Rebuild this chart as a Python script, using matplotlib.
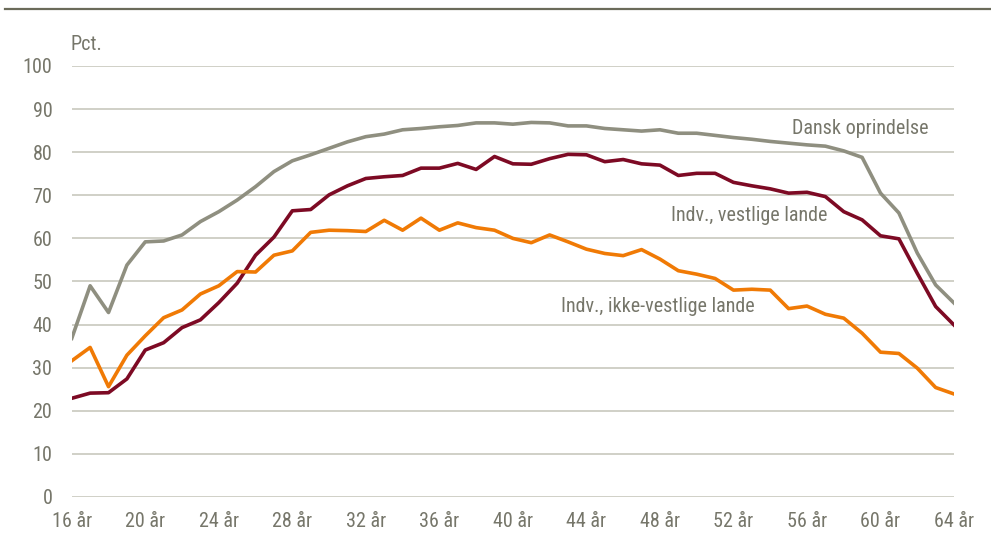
import matplotlib
matplotlib.use("Agg")
import matplotlib.pyplot as plt
from matplotlib.lines import Line2D

ages = list(range(16, 65))
tick_ages = list(range(16, 65, 4))
tick_labels = [f"{a} år" for a in tick_ages]

dansk = [36.8, 49.0, 42.8, 53.8, 59.2, 59.4, 60.8, 63.9, 66.2, 68.9,
         72.0, 75.5, 78.0, 79.4, 80.9, 82.4, 83.6, 84.2, 85.2, 85.5,
         85.9, 86.2, 86.8, 86.8, 86.5, 86.9, 86.8, 86.1, 86.1, 85.5,
         85.2, 84.9, 85.2, 84.4, 84.4, 83.9, 83.4, 83.0, 82.5, 82.1,
         81.7, 81.4, 80.3, 78.8, 70.5, 65.9, 56.6, 49.2, 45.0]
vestlige = [22.9, 24.1, 24.2, 27.4, 34.1, 35.8, 39.3, 41.1, 45.1, 49.6,
            56.1, 60.3, 66.4, 66.7, 70.1, 72.2, 73.9, 74.3, 74.6, 76.3,
            76.3, 77.4, 76.0, 79.0, 77.3, 77.2, 78.5, 79.5, 79.4, 77.8,
            78.3, 77.3, 77.0, 74.6, 75.1, 75.1, 73.0, 72.2, 71.5, 70.5,
            70.7, 69.7, 66.2, 64.3, 60.6, 59.9, 51.9, 44.2, 39.9]
ikke_vestlige = [31.6, 34.7, 25.6, 32.9, 37.4, 41.6, 43.4, 47.1, 49.0, 52.3,
                 52.2, 56.1, 57.1, 61.4, 61.9, 61.8, 61.6, 64.2, 61.9, 64.7,
                 61.9, 63.6, 62.5, 61.9, 60.0, 59.0, 60.8, 59.2, 57.5, 56.5,
                 56.0, 57.4, 55.2, 52.5, 51.7, 50.7, 48.0, 48.2, 48.0, 43.7,
                 44.3, 42.4, 41.5, 38.0, 33.6, 33.3, 29.9, 25.4, 23.9]

plt.rcParams['font.family'] = ['Roboto Condensed', 'Liberation Sans', 'DejaVu Sans']

text_col = "#76766a"
grid_col = "#cdcdc3"
c_dansk = "#8f8f80"
c_vest = "#7d0a24"
c_ikke = "#f07a05"
fs = 14.5

fig = plt.figure(figsize=(9.91, 5.37), dpi=100)
ax = fig.add_axes([0.0724, 0.0745, 0.8903, 0.8026])

ax.plot(ages, dansk, color=c_dansk, lw=2.6, solid_joinstyle='round', zorder=3)
ax.plot(ages, vestlige, color=c_vest, lw=2.6, solid_joinstyle='round', zorder=4)
ax.plot(ages, ikke_vestlige, color=c_ikke, lw=2.6, solid_joinstyle='round', zorder=5)

ax.set_xlim(16, 64)
ax.set_ylim(0, 100)
ax.set_yticks(range(0, 101, 10))
ax.set_xticks(tick_ages)
ax.set_xticklabels(tick_labels)
ax.grid(axis='y', color=grid_col, lw=1.3)
ax.set_axisbelow(True)
for s in ax.spines.values():
    s.set_visible(False)
ax.tick_params(axis='both', length=0, labelsize=fs, colors=text_col)
ax.tick_params(axis='y', pad=14)
ax.tick_params(axis='x', pad=11)

fig.text(71 / 991, 1 - 44 / 537, "Pct.", fontsize=fs, color=text_col, va='center', ha='left')

ax.text(55.2, 85.4, "Dansk oprindelse", fontsize=fs, color=text_col, ha='left', va='center')
ax.text(48.6, 65.3, "Indv., vestlige lande", fontsize=fs, color=text_col, ha='left', va='center')
ax.text(42.6, 44.2, "Indv., ikke-vestlige lande", fontsize=fs, color=text_col, ha='left', va='center')

fig.add_artist(Line2D([5 / 991, 1.0], [1 - 9 / 537, 1 - 9 / 537], transform=fig.transFigure,
                      color="#6b6b5a", lw=1.6))

fig.savefig("out.png", dpi=100)
